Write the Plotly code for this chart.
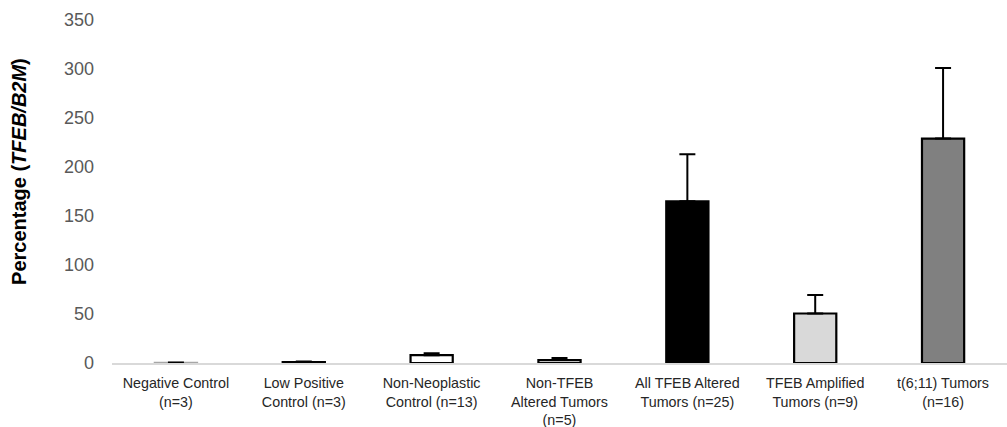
import plotly.graph_objects as go

categories = [
    "Negative Control<br>(n=3)",
    "Low Positive<br>Control (n=3)",
    "Non-Neoplastic<br>Control (n=13)",
    "Non-TFEB<br>Altered Tumors<br>(n=5)",
    "All TFEB Altered<br>Tumors (n=25)",
    "TFEB Amplified<br>Tumors (n=9)",
    "t(6;11) Tumors<br>(n=16)",
]
means = [0.2, 1.0, 8.0, 3.0, 165.0, 50.5, 229.0]
errors = [0.2, 0.6, 2.0, 2.0, 48.0, 19.0, 72.0]
fill_colors = ["white", "white", "white", "white", "black", "#d9d9d9", "#808080"]
line_colors = ["#a6a6a6", "black", "black", "black", "black", "black", "black"]

fig = go.Figure(
    go.Bar(
        x=categories,
        y=means,
        marker=dict(color=fill_colors, line=dict(color=line_colors, width=2.2)),
        error_y=dict(
            type="data",
            symmetric=False,
            array=errors,
            arrayminus=[0] * len(errors),
            color="black",
            thickness=2,
            width=8,
        ),
    )
)

fig.update_layout(
    width=1007,
    height=427,
    margin=dict(l=112, r=0, t=20, b=64),
    paper_bgcolor="white",
    plot_bgcolor="white",
    bargap=0.67,
    showlegend=False,
    font=dict(family="Liberation Sans, Arial, sans-serif", color="#595959"),
)
fig.update_xaxes(
    showline=True,
    linecolor="#d9d9d9",
    linewidth=1.5,
    showgrid=False,
    ticks="",
    tickfont=dict(size=14.3, color="#262626"),
    ticklabelstandoff=6,
    automargin=False,
)
fig.update_yaxes(
    range=[0, 350],
    tickvals=[0, 50, 100, 150, 200, 250, 300, 350],
    showgrid=False,
    zeroline=False,
    showline=False,
    ticks="",
    tickfont=dict(size=18, color="#595959"),
    ticklabelstandoff=17,
    automargin=False,
)
fig.add_annotation(
    text="<b>Percentage (<i>TFEB/B2M</i>)</b>",
    textangle=-90,
    xref="paper",
    yref="paper",
    x=0,
    y=0.557,
    xanchor="center",
    yanchor="middle",
    xshift=-93,
    showarrow=False,
    font=dict(size=20, color="#000000"),
)

fig.write_html("out.html")
